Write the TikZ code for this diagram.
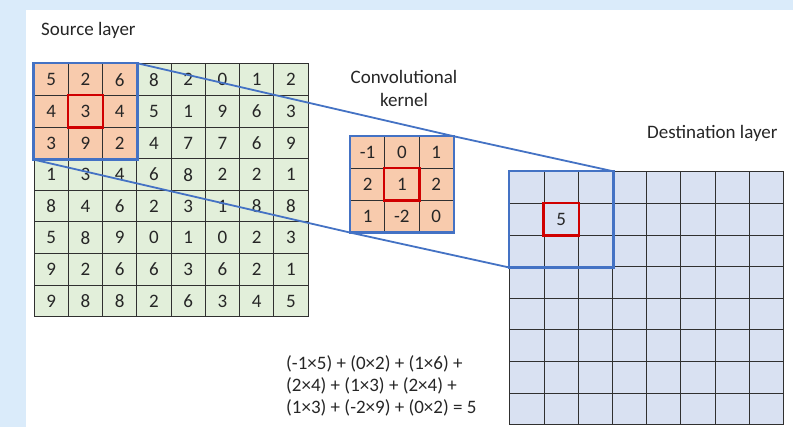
\documentclass[tikz,border=0pt]{standalone}
\usepackage{fontspec}
\setmainfont{Carlito}
\usetikzlibrary{fit}
\definecolor{bgblue}{HTML}{DAEBFA}
\definecolor{srcgreen}{HTML}{E2EFDA}
\definecolor{srcorange}{HTML}{F8CBAD}
\definecolor{dstblue}{HTML}{D9E1F2}
\definecolor{lineblue}{HTML}{4472C4}
\definecolor{cellred}{HTML}{D00000}
\definecolor{gridgray}{HTML}{303030}
\definecolor{txt}{HTML}{262626}
\begin{document}
\begin{tikzpicture}[x=1pt,y=-1pt,
  cell/.style={draw=gridgray, line width=1pt, minimum width=34.25pt, minimum height=31.6pt, inner sep=0pt, text=txt, font=\fontsize{19}{19}\selectfont},
  label/.style={text=txt, font=\fontsize{19}{23}\selectfont, inner sep=0pt},
  bluebox/.style={draw=lineblue, line width=2.4pt, inner sep=0pt},
  blueline/.style={draw=lineblue, line width=1.8pt},
  redbox/.style={draw=cellred, line width=2.4pt}]
\useasboundingbox (0,0) rectangle (793,427);
\fill[bgblue] (0,0) rectangle (793,427);
\fill[white] (26,10) rectangle (793,427);
% source layer
\foreach \row [count=\r from 0] in {{5,2,6,8,2,0,1,2},{4,3,4,5,1,9,6,3},{3,9,2,4,7,7,6,9},{1,3,4,6,8,2,2,1},{8,4,6,2,3,1,8,8},{5,8,9,0,1,0,2,3},{9,2,6,6,3,6,2,1},{9,8,8,2,6,3,4,5}}{
  \foreach \v [count=\c from 0] in \row {
    \def\fc{srcgreen}
    \ifnum\r<3 \ifnum\c<3 \def\fc{srcorange}\fi\fi
    \node[cell, fill=\fc] (s-\r-\c) at ({34+34.25*(\c+0.5)},{64+31.6*(\r+0.5)}) {\v};
  }
}
% kernel
\foreach \row [count=\r from 0] in {{-1,0,1},{2,1,2},{1,-2,0}}{
  \foreach \v [count=\c from 0] in \row {
    \node[cell, fill=srcorange] (k-\r-\c) at ({350.5+34.25*(\c+0.5)},{137+31.6*(\r+0.5)}) {\v};
  }
}
% destination
\foreach \r in {0,...,7}{
  \foreach \c in {0,...,7}{
    \node[cell, fill=dstblue] (d-\r-\c) at ({510+34.2*(\c+0.5)},{172+31.6*(\r+0.5)}) {};
  }
}
\node[cell, draw=none] at (d-1-1) {5};
% connectors
\node[fit=(s-0-0)(s-2-2), inner sep=0pt] (sbox) {};
\node[fit=(k-0-0)(k-2-2), inner sep=0pt] (kbox) {};
\node[fit=(d-0-0)(d-2-2), inner sep=0pt] (dbox) {};
\draw[blueline] (sbox.north east) -- (kbox.north east) -- (dbox.north east);
\draw[blueline] (sbox.south west) -- (kbox.south west) -- (dbox.south west);
\draw[bluebox] (sbox.north west) rectangle (sbox.south east);
\draw[bluebox] (kbox.north west) rectangle (kbox.south east);
\draw[bluebox] (dbox.north west) rectangle (dbox.south east);
\draw[redbox] (s-1-1.north west) rectangle (s-1-1.south east);
\draw[redbox] (k-1-1.north west) rectangle (k-1-1.south east);
\draw[redbox] (d-1-1.north west) rectangle (d-1-1.south east);
% labels
\node[label, anchor=west] (lsrc) at (41,30) {Source layer};
\node[label, align=center] (lker) at (404,88) {Convolutional\\kernel};
\node[label, anchor=west] (ldst) at (647,133) {Destination layer};
\node[label, anchor=west, align=left, font=\fontsize{19}{22}\selectfont] (eq) at (286,386) {(-1×5) + (0×2) + (1×6) +\\(2×4) + (1×3) + (2×4) +\\(1×3) + (-2×9) + (0×2) = 5};
\end{tikzpicture}
\end{document}
